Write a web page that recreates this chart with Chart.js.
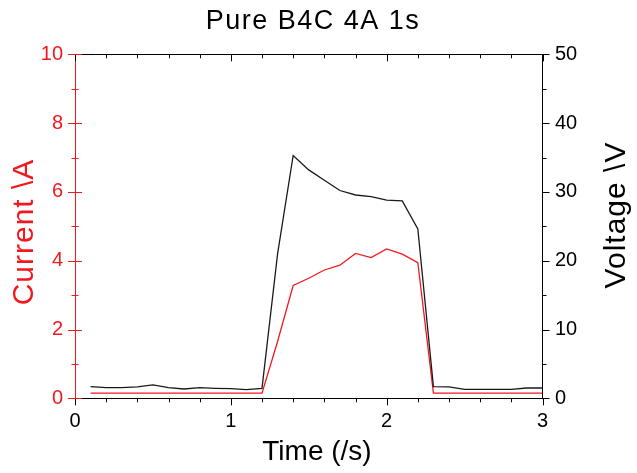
<!DOCTYPE html>
<html>
<head>
<meta charset="utf-8">
<script src="https://cdn.jsdelivr.net/npm/chart.js@4.4.1/dist/chart.umd.min.js"></script>
<style>
  html, body { margin: 0; padding: 0; background: #fff; }
  #wrap { width: 637px; height: 473px; }
</style>
</head>
<body>
<div id="wrap"><canvas id="chart" width="637" height="473"></canvas></div>
<script>
// time in seconds, sampled every 0.1 s
const times = [0.1, 0.2, 0.3, 0.4, 0.5, 0.6, 0.7, 0.8, 0.9, 1.0,
               1.1, 1.2, 1.3, 1.4, 1.5, 1.6, 1.7, 1.8, 1.9, 2.0,
               2.1, 2.2, 2.3, 2.4, 2.5, 2.6, 2.7, 2.8, 2.9, 3.0];
// current (A)
const current = [0.15, 0.15, 0.15, 0.15, 0.15, 0.15, 0.15, 0.15, 0.15, 0.15,
                 0.15, 0.15, 1.65, 3.28, 3.49, 3.73, 3.87, 4.21, 4.09, 4.34,
                 4.19, 3.94, 0.15, 0.15, 0.15, 0.15, 0.15, 0.15, 0.15, 0.15];
// voltage (V)
const voltage = [1.7, 1.55, 1.55, 1.65, 1.95, 1.55, 1.35, 1.55, 1.45, 1.4,
                 1.25, 1.45, 21.0, 35.3, 33.2, 31.7, 30.2, 29.55, 29.3, 28.8,
                 28.7, 24.6, 1.7, 1.65, 1.3, 1.3, 1.3, 1.3, 1.5, 1.5];

const titleText = "Pure B4C 4A 1s";
const xTitle = "Time (/s)";
const yTitle = "Current \\A";
const y2Title = "Voltage \\V";

const red = "rgb(240,25,30)";
const fontFam = "'Liberation Sans', Arial, sans-serif";

// ticks, frame and titles (Origin style)
const originLook = {
  id: "originLook",
  afterDraw(chart) {
    const { ctx, chartArea: a, scales } = chart;
    const x = scales.x, y = scales.y, y2 = scales.y2;
    const seg = (x1, y1, x2, y2_) => {
      ctx.beginPath(); ctx.moveTo(x1, y1); ctx.lineTo(x2, y2_); ctx.stroke();
    };
    ctx.save();
    ctx.lineWidth = 1;

    // top frame line
    ctx.strokeStyle = "#000";
    seg(a.left, Math.round(a.top) + 0.5, a.right, Math.round(a.top) + 0.5);

    // x ticks every 0.2, major on whole seconds
    for (let i = 0; i <= 15; i++) {
      const px = Math.round(x.getPixelForValue(i * 0.2)) + 0.5;
      const len = i % 5 === 0 ? 7 : 4;
      seg(px, a.bottom, px, a.bottom + len);
      seg(px, a.top, px, a.top + len);
    }
    // right axis ticks, outward
    for (let v = 0; v <= 50; v += 5) {
      const py = Math.round(y2.getPixelForValue(v)) + 0.5;
      seg(a.right, py, a.right + (v % 10 === 0 ? 7 : 4), py);
    }
    // left axis ticks, crossing the axis
    ctx.strokeStyle = red;
    for (let v = 0; v <= 10; v += 1) {
      const py = Math.round(y.getPixelForValue(v)) + 0.5;
      const len = v % 2 === 0 ? 7 : 3.5;
      seg(a.left - len, py, a.left + len, py);
    }

    // titles
    ctx.textAlign = "center";
    ctx.textBaseline = "middle";
    ctx.fillStyle = "#000";
    ctx.letterSpacing = "1.5px";
    ctx.font = "27px " + fontFam;
    ctx.fillText(titleText, 313, 22);

    ctx.letterSpacing = "0px";
    ctx.font = "28px " + fontFam;
    ctx.fillText(xTitle, 317, 452);

    ctx.letterSpacing = "1px";
    ctx.font = "30px " + fontFam;
    ctx.save();
    ctx.translate(25, 232);
    ctx.rotate(-Math.PI / 2);
    ctx.fillStyle = red;
    ctx.fillText(yTitle, 0, 0);
    ctx.restore();

    ctx.save();
    ctx.translate(617, 215);
    ctx.rotate(-Math.PI / 2);
    ctx.fillText(y2Title, 0, 0);
    ctx.restore();

    ctx.restore();
  }
};

const tickFont = { family: fontFam, size: 20 };

new Chart(document.getElementById("chart"), {
  type: "line",
  data: {
    datasets: [
      {
        label: "Voltage",
        data: times.map((t, i) => ({ x: t, y: voltage[i] })),
        yAxisID: "y2",
        borderColor: "#1a1a1a",
        borderWidth: 1.3,
        pointRadius: 0,
        tension: 0
      },
      {
        label: "Current",
        data: times.map((t, i) => ({ x: t, y: current[i] })),
        yAxisID: "y",
        borderColor: red,
        borderWidth: 1.3,
        pointRadius: 0,
        tension: 0
      }
    ]
  },
  options: {
    responsive: false,
    animation: false,
    layout: { padding: { top: 54.3, left: 0, right: 0, bottom: 0 } },
    plugins: {
      legend: { display: false },
      tooltip: { enabled: false },
      title: { display: false }
    },
    scales: {
      x: {
        type: "linear",
        position: "bottom",
        min: 0,
        max: 3,
        afterFit: s => { s.height = 74.7; },
        grid: { display: false, drawTicks: false },
        border: { display: true, color: "#000", width: 1 },
        ticks: { stepSize: 1, padding: 11, color: "#000", font: tickFont, maxRotation: 0 }
      },
      y: {
        position: "left",
        min: 0,
        max: 10,
        afterFit: s => { s.width = 75; },
        grid: { display: false, drawTicks: false },
        border: { display: true, color: red, width: 1 },
        ticks: { stepSize: 2, padding: 12, color: red, font: tickFont }
      },
      y2: {
        position: "right",
        min: 0,
        max: 50,
        afterFit: s => { s.width = 94.5; },
        grid: { display: false, drawTicks: false },
        border: { display: true, color: "#000", width: 1 },
        ticks: { stepSize: 10, padding: 12.5, color: "#000", font: tickFont }
      }
    }
  },
  plugins: [originLook]
});
</script>
</body>
</html>
